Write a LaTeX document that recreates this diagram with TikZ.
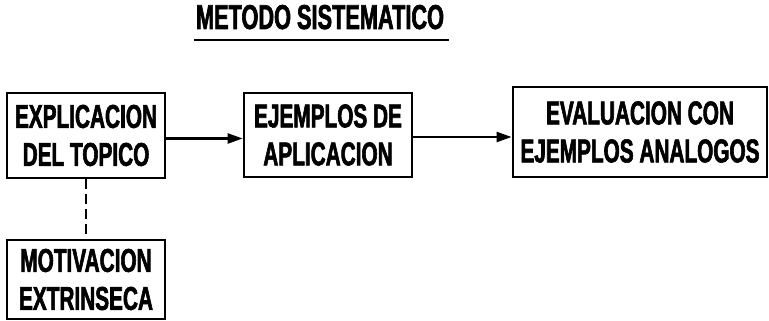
\documentclass[tikz,border=0pt]{standalone}
\usepackage{fontspec}
\setmainfont{Liberation Sans}[FakeStretch=0.63, FakeBold=1.8]
\usetikzlibrary{calc}
\usetikzlibrary{arrows.meta}

\begin{document}
\begin{tikzpicture}[x=1pt, y=-1pt,
  caja/.style = {draw, line width=2.8pt, inner sep=0, align=center,
    font=\fontsize{33}{38}\selectfont\bfseries},
  flecha/.style = {line width=2.4pt, -{Triangle[length=15pt, width=10pt]}}]

\useasboundingbox (0,0) rectangle (769,321);

% titulo
\node[anchor=base, inner sep=0, font=\fontsize{34.5}{36}\selectfont\bfseries] (titulo) at (320,29) {METODO SISTEMATICO};
\draw[line width=2.6pt] ($(titulo.base west)+(-2,11)$) -- ($(titulo.base east)+(5,11)$);

% cajas
\node[caja, minimum width=158, minimum height=85] (expl) at (86,135.5) {EXPLICACION\\DEL TOPICO};
\node[caja, minimum width=168, minimum height=84] (ejem) at (328,135) {EJEMPLOS DE\\APLICACION};
\node[caja, minimum width=254, minimum height=90] (eval) at (640,132) {EVALUACION CON\\EJEMPLOS ANALOGOS};
\node[caja, minimum width=158, minimum height=79] (motiv) at (86,279.5) {\raisebox{-3pt}{MOTIVACION}\\\raisebox{-3pt}{EXTRINSECA}};

\draw[flecha] ([yshift=-3pt]expl.east) -- ([yshift=-3pt]expl.east -| ejem.west);
\draw[flecha] ([yshift=-2pt]ejem.east) -- ([yshift=-2pt]ejem.east -| eval.west);
\draw[line width=2.4pt, dash pattern=on 10pt off 5pt] (expl) -- (motiv);

\end{tikzpicture}
\end{document}
